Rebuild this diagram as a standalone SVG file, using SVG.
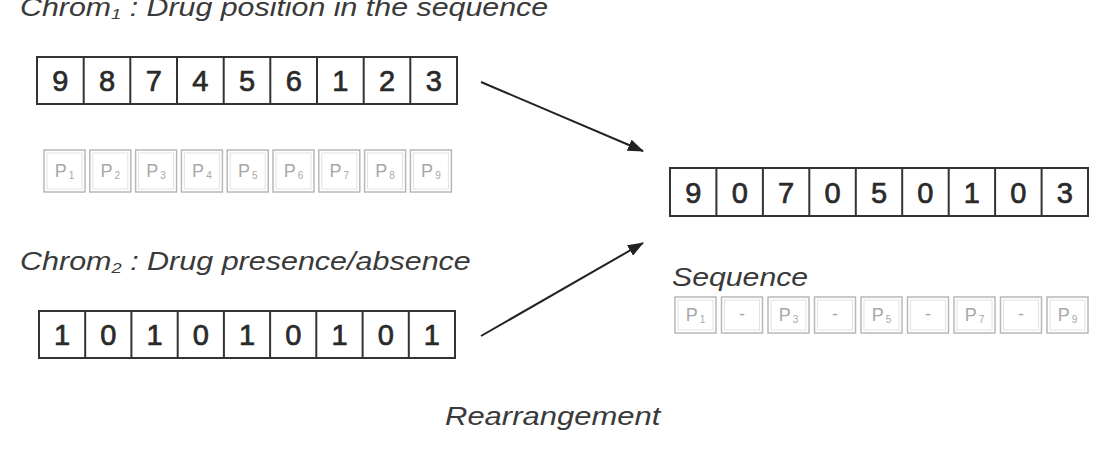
<svg xmlns="http://www.w3.org/2000/svg" width="1107" height="462" viewBox="0 0 1107 462">
<style>
.t{font-family:"Liberation Sans",Arial,sans-serif;font-style:italic;font-size:25px;fill:#3a3a3a}
.sub{font-size:15px}
.cell{fill:#fff;stroke:#333;stroke-width:2}
.d{font-family:"Liberation Sans",Arial,sans-serif;font-size:29px;fill:#2a2a2a;stroke:#2a2a2a;stroke-width:0.7;text-anchor:middle}
.pb{fill:#fff;stroke:#b8b8b8;stroke-width:1.5}
.pi{fill:none;stroke:#e2e2e2;stroke-width:1}
.p{font-family:"Liberation Sans",Arial,sans-serif;font-size:18px;fill:#a8a8a8;text-anchor:middle}
.ps{font-size:10px}
.conn{stroke:#222;stroke-width:2;fill:none;marker-end:url(#ah)}
</style>
<defs>
<marker id="ah" viewBox="0 0 16 12" refX="15" refY="6" markerWidth="16" markerHeight="12" markerUnits="userSpaceOnUse" orient="auto">
<path d="M0,0 L16,6 L0,12 z" fill="#222"/>
</marker>
</defs>
<rect width="1107" height="462" fill="#fff"/>

<g id="label-chrom1"><text class="t" transform="translate(20,16) scale(1.215,1)">Chrom<tspan class="sub" dy="3">1</tspan><tspan dy="-3"> :  Drug position in the sequence</tspan></text></g>

<g id="chrom1">
<rect class="cell" x="37" y="57" width="420" height="47"/>
<path d="M83.7,57V104M130.3,57V104M177,57V104M223.7,57V104M270.3,57V104M317,57V104M363.7,57V104M410.3,57V104" stroke="#333" stroke-width="2"/>
<text class="d" y="91"><tspan x="60.3">9</tspan><tspan x="107">8</tspan><tspan x="153.7">7</tspan><tspan x="200.3">4</tspan><tspan x="247">5</tspan><tspan x="293.7">6</tspan><tspan x="340.3">1</tspan><tspan x="387">2</tspan><tspan x="433.7">3</tspan></text>
</g>

<g id="positions1">
<g>
<rect class="pb" x="44" y="150" width="41" height="42"/><rect class="pi" x="47" y="153" width="35" height="36"/>
<rect class="pb" x="89.8" y="150" width="41" height="42"/><rect class="pi" x="92.8" y="153" width="35" height="36"/>
<rect class="pb" x="135.6" y="150" width="41" height="42"/><rect class="pi" x="138.6" y="153" width="35" height="36"/>
<rect class="pb" x="181.4" y="150" width="41" height="42"/><rect class="pi" x="184.4" y="153" width="35" height="36"/>
<rect class="pb" x="227.2" y="150" width="41" height="42"/><rect class="pi" x="230.2" y="153" width="35" height="36"/>
<rect class="pb" x="273" y="150" width="41" height="42"/><rect class="pi" x="276" y="153" width="35" height="36"/>
<rect class="pb" x="318.8" y="150" width="41" height="42"/><rect class="pi" x="321.8" y="153" width="35" height="36"/>
<rect class="pb" x="364.6" y="150" width="41" height="42"/><rect class="pi" x="367.6" y="153" width="35" height="36"/>
<rect class="pb" x="410.4" y="150" width="41" height="42"/><rect class="pi" x="413.4" y="153" width="35" height="36"/>
</g>
<text class="p" x="64.5" y="177">P<tspan class="ps" dx="2" dy="2">1</tspan></text>
<text class="p" x="110.3" y="177">P<tspan class="ps" dx="2" dy="2">2</tspan></text>
<text class="p" x="156.1" y="177">P<tspan class="ps" dx="2" dy="2">3</tspan></text>
<text class="p" x="201.9" y="177">P<tspan class="ps" dx="2" dy="2">4</tspan></text>
<text class="p" x="247.7" y="177">P<tspan class="ps" dx="2" dy="2">5</tspan></text>
<text class="p" x="293.5" y="177">P<tspan class="ps" dx="2" dy="2">6</tspan></text>
<text class="p" x="339.3" y="177">P<tspan class="ps" dx="2" dy="2">7</tspan></text>
<text class="p" x="385.1" y="177">P<tspan class="ps" dx="2" dy="2">8</tspan></text>
<text class="p" x="430.9" y="177">P<tspan class="ps" dx="2" dy="2">9</tspan></text>
</g>

<g id="label-chrom2"><text class="t" transform="translate(20,270) scale(1.22,1)">Chrom<tspan class="sub" dy="3">2</tspan><tspan dy="-3"> :  Drug presence/absence</tspan></text></g>

<g id="chrom2">
<rect class="cell" x="39" y="311" width="416" height="47"/>
<path d="M85.2,311V358M131.4,311V358M177.7,311V358M223.9,311V358M270.1,311V358M316.3,311V358M362.6,311V358M408.8,311V358" stroke="#333" stroke-width="2"/>
<text class="d" y="345"><tspan x="62.1">1</tspan><tspan x="108.3">0</tspan><tspan x="154.6">1</tspan><tspan x="200.8">0</tspan><tspan x="247">1</tspan><tspan x="293.2">0</tspan><tspan x="339.5">1</tspan><tspan x="385.7">0</tspan><tspan x="431.9">1</tspan></text>
</g>

<g id="result">
<rect class="cell" x="670" y="168" width="418" height="48"/>
<path d="M716.4,168V216M762.9,168V216M809.3,168V216M855.8,168V216M902.2,168V216M948.7,168V216M995.1,168V216M1041.6,168V216" stroke="#333" stroke-width="2"/>
<text class="d" y="202.5"><tspan x="693.2">9</tspan><tspan x="739.7">0</tspan><tspan x="786.1">7</tspan><tspan x="832.6">0</tspan><tspan x="879">5</tspan><tspan x="925.4">0</tspan><tspan x="971.9">1</tspan><tspan x="1018.3">0</tspan><tspan x="1064.8">3</tspan></text>
</g>

<g id="label-sequence"><text class="t" transform="translate(672,286) scale(1.21,1)">Sequence</text></g>

<g id="positions2">
<g>
<rect class="pb" x="675" y="297" width="41" height="36"/><rect class="pi" x="678" y="300" width="35" height="30"/>
<rect class="pb" x="721.5" y="297" width="41" height="36"/><rect class="pi" x="724.5" y="300" width="35" height="30"/>
<rect class="pb" x="768" y="297" width="41" height="36"/><rect class="pi" x="771" y="300" width="35" height="30"/>
<rect class="pb" x="814.5" y="297" width="41" height="36"/><rect class="pi" x="817.5" y="300" width="35" height="30"/>
<rect class="pb" x="861" y="297" width="41" height="36"/><rect class="pi" x="864" y="300" width="35" height="30"/>
<rect class="pb" x="907.5" y="297" width="41" height="36"/><rect class="pi" x="910.5" y="300" width="35" height="30"/>
<rect class="pb" x="954" y="297" width="41" height="36"/><rect class="pi" x="957" y="300" width="35" height="30"/>
<rect class="pb" x="1000.5" y="297" width="41" height="36"/><rect class="pi" x="1003.5" y="300" width="35" height="30"/>
<rect class="pb" x="1047" y="297" width="41" height="36"/><rect class="pi" x="1050" y="300" width="35" height="30"/>
</g>
<text class="p" x="695.5" y="321">P<tspan class="ps" dx="2" dy="2">1</tspan></text>
<text class="p" x="742" y="320">-</text>
<text class="p" x="788.5" y="321">P<tspan class="ps" dx="2" dy="2">3</tspan></text>
<text class="p" x="835" y="320">-</text>
<text class="p" x="881.5" y="321">P<tspan class="ps" dx="2" dy="2">5</tspan></text>
<text class="p" x="928" y="320">-</text>
<text class="p" x="974.5" y="321">P<tspan class="ps" dx="2" dy="2">7</tspan></text>
<text class="p" x="1021" y="320">-</text>
<text class="p" x="1067.5" y="321">P<tspan class="ps" dx="2" dy="2">9</tspan></text>
</g>

<g id="label-rearrangement"><text class="t" transform="translate(445,425) scale(1.24,1)">Rearrangement</text></g>

<g id="connectors">
<line class="conn" x1="481" y1="82" x2="643" y2="151"/>
<line class="conn" x1="481" y1="336" x2="643" y2="243"/>
</g>
</svg>
